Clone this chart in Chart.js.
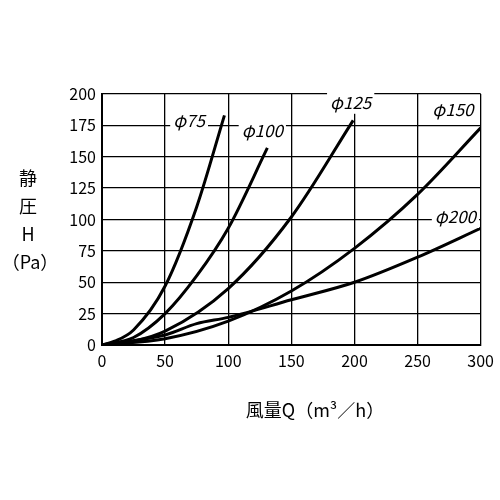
<!DOCTYPE html>
<html><head><meta charset="utf-8">
<script src="https://cdn.jsdelivr.net/npm/chart.js@4"></script>
<style>body{margin:0;background:#fff}</style>
</head><body><canvas id="c" width="500" height="500"></canvas>
<script>
const xTicks=[0,50,100,150,200,250,300];
const yTicks=[0,25,50,75,100,125,150,175,200];
const names=['φ75','φ100','φ125','φ150','φ200'];
const s75=[[0,0],[10,3],[25,12],[50,47],[75,110],[97,183]];
const s100=[[0,0],[25,6],[50,25],[75,55],[100,93],[131,157]];
const s125=[[0,0],[25,3],[50,11],[100,45],[150,102],[199,179]];
const s150=[[0,0],[50,5],[100,19],[150,43],[200,77],[250,120],[300,173]];
const s200=[[0,0],[50,8],[75,17],[100,22],[150,36],[200,50],[250,70],[300,93]];
const labelPos=[[69,179],[127,171],[197,193],[278,188],[280,102]];
const series=[s75,s100,s125,s150,s200];
const F='"Noto Sans CJK JP","Noto Sans",sans-serif';
const lab={id:'lab',afterDraw(ch){
 const c=ch.ctx,xs=ch.scales.x,ys=ch.scales.y;
 c.save();c.font='italic 17px '+F;c.textAlign='center';c.textBaseline='middle';
 names.forEach((n,i)=>{const x=xs.getPixelForValue(labelPos[i][0]),y=ys.getPixelForValue(labelPos[i][1]);
  const w=c.measureText(n).width+6;c.fillStyle='#fff';c.fillRect(x-w/2,y-11,w,22);c.fillStyle='#000';c.fillText(n,x,y);});
 c.font='18px '+F;c.textAlign='center';
 ['静','圧','H','（Pa）'].forEach((t,i)=>c.fillText(t,i==3?30:28,178+i*28));
 c.font='18px '+F;c.fillText('風量Q（m³／h）',315,410);
 c.restore();}};
new Chart(document.getElementById('c'),{type:'line',
 data:{datasets:series.map((s,i)=>({label:names[i],data:s.map(p=>({x:p[0],y:p[1]})),borderColor:'#000',borderWidth:3,pointRadius:0,cubicInterpolationMode:'monotone',fill:false}))},
 options:{animation:false,responsive:false,devicePixelRatio:1,
  layout:{padding:{left:50,right:17,top:94,bottom:115}},
  plugins:{legend:{display:false},tooltip:{enabled:false}},
  scales:{
   x:{type:'linear',min:0,max:300,afterBuildTicks:a=>{a.ticks=xTicks.map(v=>({value:v}))},afterFit:a=>{a.height=40},
    grid:{color:'#000',lineWidth:1.3,drawTicks:false},border:{color:'#000',width:2},
    ticks:{color:'#000',font:{size:16,family:F},padding:6}},
   y:{min:0,max:200,afterBuildTicks:a=>{a.ticks=yTicks.map(v=>({value:v}))},afterFit:a=>{a.width=52},
    grid:{color:'#000',lineWidth:1.3,drawTicks:false},border:{color:'#000',width:2},
    ticks:{color:'#000',font:{size:16,family:F},padding:6}}}},
 plugins:[lab]});
</script></body></html>
